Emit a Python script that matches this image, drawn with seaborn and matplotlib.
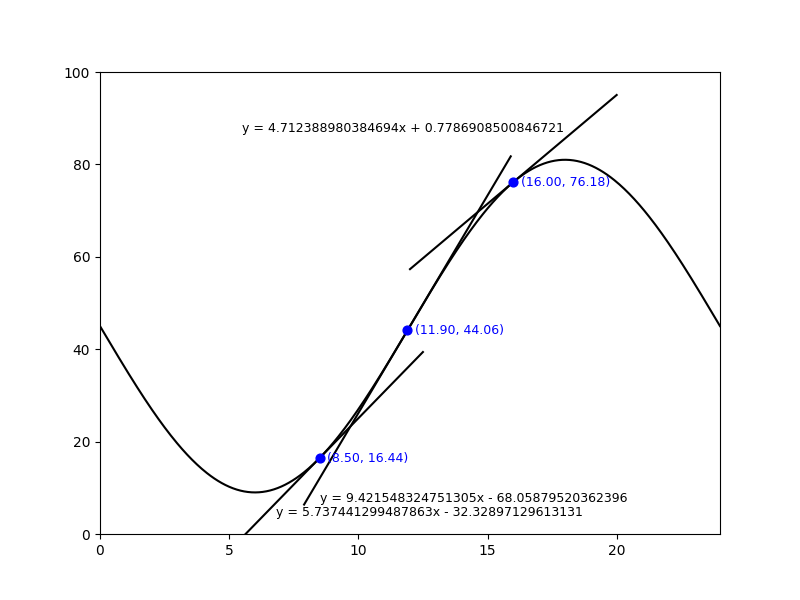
import numpy as np
import matplotlib
matplotlib.use("Agg")
import matplotlib.pyplot as plt
import seaborn as sns
import pandas as pd

# curve model parameters: min 9 at x=6, max 81 at x=18
offset = 45.0
amplitude = 36.0
period = 24.0
tangent_x = [8.5, 11.9, 16.0]
label_pos = [(6.8, 4.0), (8.5, 7.0), (5.5, 87.0)]

def f(x):
    return offset - amplitude * np.sin(2 * np.pi * x / period)

def df(x):
    return -amplitude * (2 * np.pi / period) * np.cos(2 * np.pi * x / period)

xs = np.linspace(0, 24, 500)
df_curve = pd.DataFrame({"x": xs, "y": f(xs)})

fig, ax = plt.subplots(figsize=(8, 6), dpi=100)
sns.lineplot(data=df_curve, x="x", y="y", color="black", ax=ax)

for x0, (lx, ly) in zip(tangent_x, label_pos):
    y0 = f(x0); m = df(x0); b = y0 - m * x0
    tx = np.linspace(x0 - 4, x0 + 4, 10)
    sns.lineplot(x=tx, y=m * tx + b, color="black", ax=ax)
    ax.scatter([x0], [y0], color="blue", s=40, zorder=5)
    ax.text(x0 + 0.3, y0, f"({x0:.2f}, {y0:.2f})", color="blue", fontsize=9, va="center")
    sign = "+" if b >= 0 else "-"
    ax.text(lx, ly, f"y = {m}x {sign} {abs(b)}", fontsize=9)

ax.set_xlim(0, 24)
ax.set_ylim(0, 100)
ax.set_xlabel("")
ax.set_ylabel("")
fig.savefig("out.png")
